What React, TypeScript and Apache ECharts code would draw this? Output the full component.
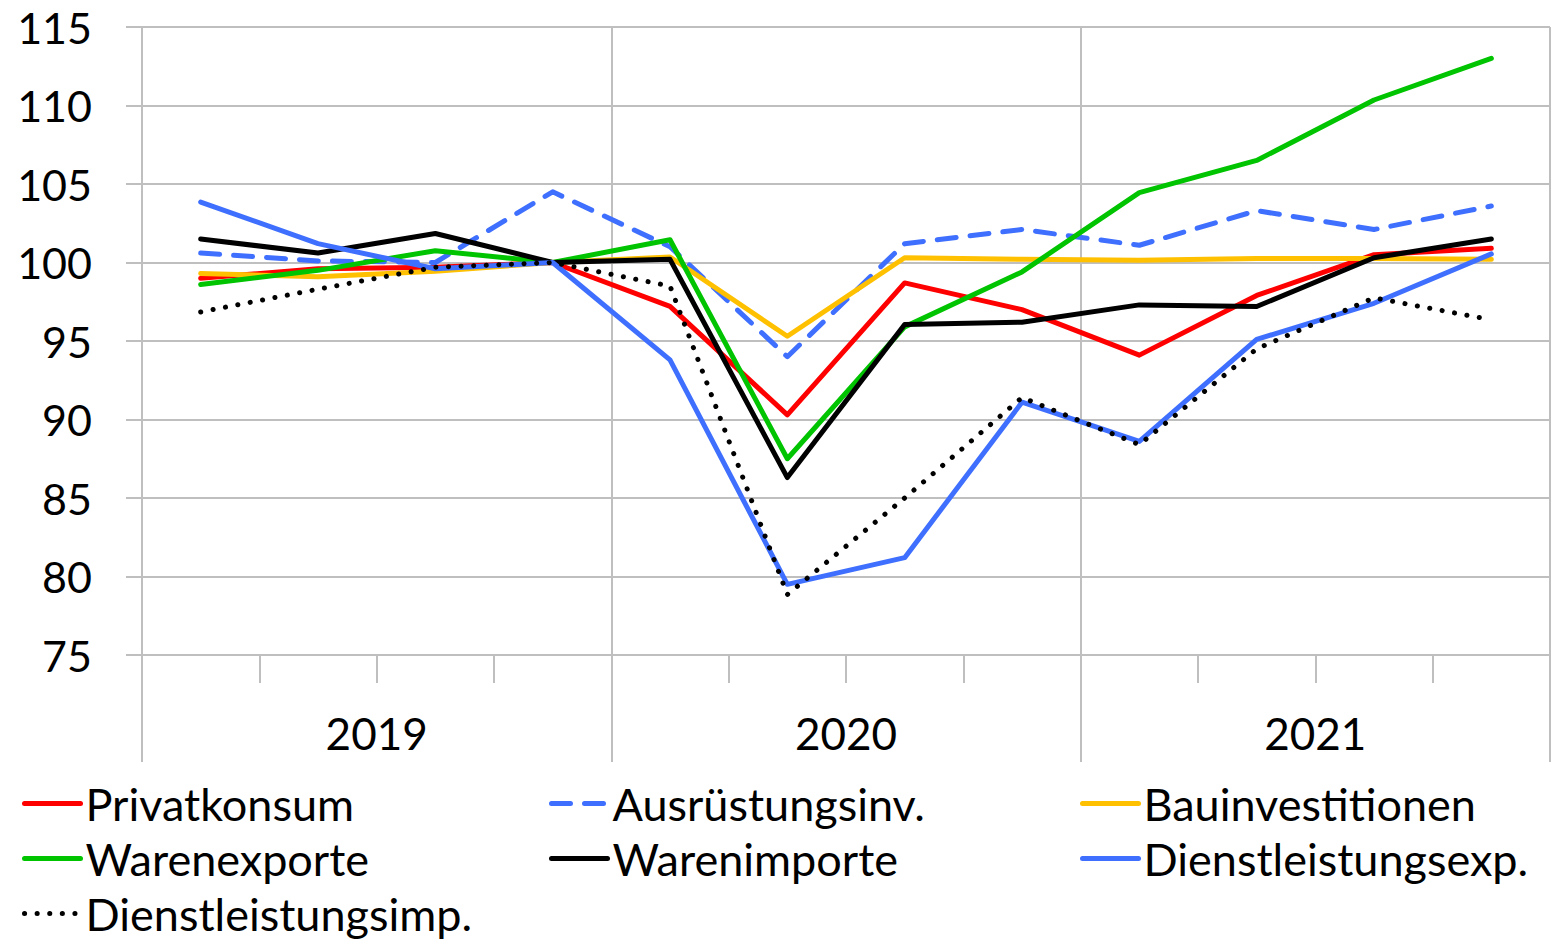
import React, { useEffect, useRef } from "react";
import * as echarts from "echarts";

const quarters = ["Q1 2019", "Q2 2019", "Q3 2019", "Q4 2019", "Q1 2020", "Q2 2020", "Q3 2020", "Q4 2020", "Q1 2021", "Q2 2021", "Q3 2021", "Q4 2021"];
const years = ["2019", "2020", "2021"];
const yTicks = { min: 75, max: 115, interval: 5 };

const privatkonsum = [99.0, 99.6, 99.7, 100, 97.2, 90.3, 98.7, 97.0, 94.1, 97.9, 100.5, 100.9];
const ausruestung = [100.6, 100.1, 100.0, 104.5, 101.0, 94.0, 101.2, 102.1, 101.1, 103.3, 102.1, 103.6];
const bau = [99.3, 99.1, 99.45, 100, 100.35, 95.3, 100.3, 100.2, 100.15, 100.25, 100.25, 100.2];
const warenexporte = [98.6, 99.5, 100.75, 100, 101.45, 87.5, 95.9, 99.4, 104.45, 106.5, 110.35, 113.0];
const warenimporte = [101.5, 100.6, 101.85, 100, 100.2, 86.3, 96.05, 96.2, 97.3, 97.2, 100.3, 101.5];
const dlExp = [103.85, 101.2, 99.6, 100, 93.8, 79.5, 81.2, 91.1, 88.6, 95.1, 97.4, 100.55];
const dlImp = [96.85, 98.3, 99.7, 100, 98.5, 78.85, 85.0, 91.4, 88.4, 94.5, 97.75, 96.35];

const FONT = "Lato";
const GRID = "#bfbfbf";

export default function App() {
  const ref = useRef<HTMLDivElement>(null);
  useEffect(() => {
    if (!ref.current) return;
    const chart = echarts.init(ref.current, undefined, { renderer: "svg" });
    const mk = (name: string, data: number[], color: string, type: any = "solid", width = 5) => ({
      name,
      type: "line",
      data,
      symbol: "none",
      xAxisIndex: 0,
      lineStyle: { color, width, type, cap: "round", join: "round" },
      itemStyle: { color },
    });
    const legendBase = {
      orient: "vertical",
      padding: 0,
      height: 200,
      itemWidth: 56,
      itemHeight: 14,
      itemGap: 10,
      itemStyle: { opacity: 0 },
      lineStyle: { width: 5 },
      textStyle: { fontFamily: FONT, fontSize: 45, color: "#000", lineHeight: 44 },
    };
    chart.setOption({
      animation: false,
      backgroundColor: "#fff",
      grid: { left: 142, right: 2, top: 27, bottom: 285 },
      xAxis: [
        {
          type: "category",
          data: quarters,
          boundaryGap: true,
          axisLine: { show: true, lineStyle: { color: GRID, width: 2 } },
          axisTick: { show: true, interval: 0, length: 28, lineStyle: { color: GRID, width: 2 } },
          axisLabel: { show: false },
          splitLine: { show: false },
        },
        {
          type: "category",
          data: years,
          position: "bottom",
          boundaryGap: true,
          axisLine: { show: false },
          axisTick: { show: true, interval: 0, length: 107, lineStyle: { color: GRID, width: 2 } },
          axisLabel: { show: true, interval: 0, margin: 56, fontFamily: FONT, fontSize: 44, color: "#000" },
          splitLine: { show: true, interval: 0, lineStyle: { color: GRID, width: 2 } },
        },
      ],
      yAxis: {
        type: "value",
        min: yTicks.min,
        max: yTicks.max,
        interval: yTicks.interval,
        axisLine: { show: true, lineStyle: { color: GRID, width: 2 } },
        axisTick: { show: true, length: 16, lineStyle: { color: GRID, width: 2 } },
        axisLabel: { margin: 50, fontFamily: FONT, fontSize: 43, color: "#000" },
        splitLine: { show: true, lineStyle: { color: GRID, width: 2 } },
      },
      legend: [
        { ...legendBase, left: 22, top: 781, data: ["Privatkonsum", "Warenexporte", "Dienstleistungsimp."] },
        { ...legendBase, left: 549, top: 781, data: ["Ausrüstungsinv.", "Warenimporte"] },
        { ...legendBase, left: 1080, top: 781, data: ["Bauinvestitionen", "Dienstleistungsexp."] },
      ],
      series: [
        mk("Privatkonsum", privatkonsum, "#ff0000"),
        mk("Ausrüstungsinv.", ausruestung, "#3f6fff", [19, 14]),
        mk("Bauinvestitionen", bau, "#ffc000"),
        mk("Warenexporte", warenexporte, "#00c400"),
        mk("Warenimporte", warenimporte, "#000000"),
        mk("Dienstleistungsexp.", dlExp, "#3f6fff"),
        mk("Dienstleistungsimp.", dlImp, "#000000", [0.1, 12.5], 5),
      ],
    });
    return () => chart.dispose();
  }, []);
  return <div ref={ref} style={{ position: "fixed", left: 0, top: 0, width: 1552, height: 940 }} />;
}
